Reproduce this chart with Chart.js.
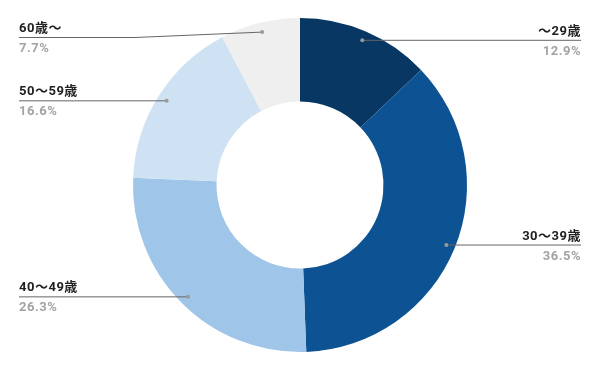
<!DOCTYPE html>
<html>
<head>
<meta charset="utf-8">
<script src="https://cdn.jsdelivr.net/npm/chart.js@4"></script>
<style>
  html, body { margin: 0; padding: 0; background: #fff; }
  #wrap { width: 600px; height: 371px; }
</style>
</head>
<body>
<div id="wrap"><canvas id="ageChart" width="600" height="371"></canvas></div>
<script>
// age groups and share (%)
const labels = ['〜29歳', '30〜39歳', '40〜49歳', '50〜59歳', '60歳〜'];
const shares = [12.9, 36.5, 26.3, 16.6, 7.7];
const colors = ['#083763', '#0d5394', '#9fc5e8', '#cfe2f3', '#efefef'];

// ─── leader-line labels ─────────────────────────────────────
const calloutPlugin = {
  id: 'callouts',
  afterDraw(chart) {
    const ctx = chart.ctx;
    const arcs = chart.getDatasetMeta(0).data;
    const W = chart.width;

    arcs.forEach((arc, i) => {
      const mid = (arc.startAngle + arc.endAngle) / 2;
      const r = arc.outerRadius - 9;
      const dx = arc.x + Math.cos(mid) * r;
      const dy = arc.y + Math.sin(mid) * r;
      const right = dx >= arc.x;
      const lineY = Math.max(dy, 37);
      const edgeX = right ? W - 19 : 19;
      const elbowX = right ? W - 135 : 135;

      ctx.save();
      ctx.strokeStyle = '#666';
      ctx.lineWidth = 1;
      ctx.beginPath();
      ctx.moveTo(edgeX, lineY + 0.5);
      if (Math.abs(lineY - dy) > 0.5) {
        ctx.lineTo(elbowX, lineY + 0.5);
      }
      ctx.lineTo(dx, dy + 0.5);
      ctx.stroke();

      ctx.fillStyle = '#999';
      ctx.beginPath();
      ctx.arc(dx, dy + 0.5, 2, 0, Math.PI * 2);
      ctx.fill();

      ctx.textAlign = right ? 'right' : 'left';
      ctx.textBaseline = 'alphabetic';
      ctx.letterSpacing = '0.5px';
      ctx.font = 'bold 13px Roboto, "Noto Sans CJK JP", sans-serif';
      ctx.fillStyle = '#222';
      ctx.fillText(labels[i], edgeX, lineY - 5);
      ctx.fillStyle = '#a3a3a3';
      ctx.fillText(shares[i].toFixed(1) + '%', edgeX, lineY + 15);
      ctx.restore();
    });
  }
};

new Chart(document.getElementById('ageChart'), {
  type: 'doughnut',
  data: {
    labels,
    datasets: [{
      data: shares,
      backgroundColor: colors,
      borderWidth: 0,
    }]
  },
  options: {
    responsive: false,
    animation: false,
    cutout: '50%',
    layout: { padding: { top: 18, bottom: 19, left: 0, right: 0 } },
    plugins: {
      legend: { display: false },
      tooltip: { enabled: false },
    }
  },
  plugins: [calloutPlugin]
});
</script>
</body>
</html>
